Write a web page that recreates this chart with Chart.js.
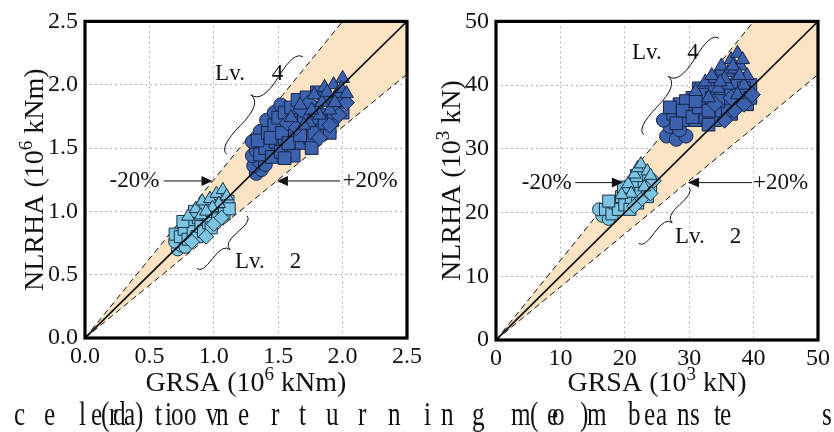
<!DOCTYPE html>
<html>
<head>
<meta charset="utf-8">
<script src="https://cdn.jsdelivr.net/npm/chart.js@4/dist/chart.umd.min.js"></script>
<style>
  html, body { margin: 0; padding: 0; background: #fff; width: 834px; height: 432px; overflow: hidden; }
  canvas { position: absolute; top: 0; }
  #momentChart { left: 0; }
  #shearChart { left: 417px; }
  #caption { position: absolute; left: 0; top: 0; width: 834px; height: 432px; pointer-events: none;
             font-family: "Liberation Serif", serif; font-size: 34px; line-height: 34px; color: #111; }
  #caption span { position: absolute; top: 397px; transform: scaleX(0.74); transform-origin: left center; }
</style>
</head>
<body>
<canvas id="momentChart" width="440" height="400"></canvas>
<canvas id="shearChart" width="417" height="400"></canvas>
<div id="caption"></div>
<script>
// ---- axis ticks ----
const momentTicks = [0, 0.5, 1.0, 1.5, 2.0, 2.5];
const shearTicks = [0, 10, 20, 30, 40, 50];

// ---- reference lines: 1:1 and the ±20 % envelope ----
const momentEqual = [[0, 0], [2.5, 2.5]];
const momentUpper = [[0, 0], [2.0, 2.5]];
const momentLower = [[0, 0], [2.5, 2.0833]];
const momentBand = [[0, 0], [2.0, 2.5], [2.5, 2.5], [2.5, 2.0833]];
const shearEqual = [[0, 0], [50, 50]];
const shearUpper = [[0, 0], [40, 50]];
const shearLower = [[0, 0], [50, 41.667]];
const shearBand = [[0, 0], [40, 50], [50, 50], [50, 41.667]];

// ---- overturning moment, GRSA vs NLRHA (10^6 kNm) ----
const momentLv4Circle = [[1.33,1.30],[1.37,1.33],[1.31,1.36],[1.35,1.40],[1.40,1.37],[1.30,1.44],[1.33,1.48],[1.30,1.55],[1.36,1.63],[1.41,1.72],[1.47,1.78],[1.52,1.84],[1.44,1.50],[1.38,1.55]];
const momentLv4Square = [[1.36,1.45],[1.40,1.50],[1.34,1.56],[1.45,1.43],[1.48,1.55],[1.42,1.62],[1.52,1.47],[1.55,1.58],[1.47,1.68],[1.50,1.74],[1.58,1.66],[1.60,1.50],[1.63,1.60],[1.55,1.78],[1.60,1.82],[1.66,1.72],[1.68,1.54],[1.70,1.64],[1.72,1.78],[1.65,1.88],[1.75,1.58],[1.78,1.70],[1.80,1.82],[1.72,1.90],[1.84,1.64],[1.86,1.76],[1.88,1.88],[1.80,1.94],[1.92,1.72],[1.95,1.82],[1.98,1.90],[1.62,1.44],[1.55,1.42],[1.76,1.50],[1.90,1.62],[2.00,1.78],[1.44,1.58],[1.53,1.62],[1.62,1.70],[1.70,1.74],[1.78,1.62],[1.86,1.70],[1.93,1.78],[1.58,1.54],[1.67,1.60]];
const momentLv4Diamond = [[1.57,1.70],[1.68,1.80],[1.74,1.86],[1.82,1.58],[1.90,1.68],[1.97,1.76],[2.03,1.86],[1.64,1.66],[1.85,1.90]];
const momentLv4Triangle = [[1.60,1.74],[1.67,1.84],[1.74,1.70],[1.78,1.92],[1.82,1.76],[1.86,1.98],[1.90,1.80],[1.93,2.00],[1.96,1.93],[2.00,2.05],[1.70,1.68],[1.84,1.86],[1.99,1.97],[1.76,1.80],[1.94,1.86],[2.03,1.93],[1.88,1.94]];
const momentLv2Circle = [[0.72,0.70],[0.75,0.73],[0.70,0.76],[0.78,0.72]];
const momentLv2Square = [[0.70,0.82],[0.74,0.80],[0.77,0.86],[0.80,0.78],[0.82,0.92],[0.84,0.84],[0.87,0.80],[0.88,0.95],[0.90,0.88],[0.92,0.84],[0.95,0.98],[0.96,0.91],[0.98,0.87],[1.01,1.00],[1.03,0.94],[1.06,1.05],[1.08,0.98],[1.11,1.08],[0.76,0.92],[0.85,1.00],[0.93,1.05],[1.12,1.02]];
const momentLv2Diamond = [[0.83,0.76],[0.94,0.80],[1.00,0.90],[1.06,0.95]];
const momentLv2Triangle = [[0.80,0.96],[0.86,1.02],[0.91,1.08],[0.97,1.10],[1.02,1.14],[1.07,1.17],[1.04,1.06],[0.99,1.03],[1.10,1.12],[0.90,0.97],[0.94,1.00]];

// ---- base shear, GRSA vs NLRHA (10^3 kN) ----
const shearLv4Circle = [[26.5,32.0],[28.0,31.5],[29.5,32.0],[27.0,33.5],[26.0,34.5],[28.5,33.0]];
const shearLv4Square = [[27.5,35.5],[29.0,34.5],[28.5,37.0],[30.0,36.0],[31.0,34.5],[30.5,38.0],[32.0,37.0],[32.5,35.0],[33.0,39.0],[33.5,36.5],[34.0,34.5],[34.5,38.5],[35.0,36.0],[35.5,40.0],[36.0,37.5],[36.5,35.5],[37.0,39.5],[37.5,37.0],[38.0,41.0],[38.5,38.5],[39.0,37.0],[39.5,40.0],[31.5,39.5],[33.0,33.8],[29.5,37.5],[35.0,41.5],[27.0,36.5],[28.0,34.0],[29.0,36.0],[30.5,35.0],[31.5,36.5],[32.0,38.5],[33.5,38.0],[34.0,40.0],[35.0,39.0],[36.0,36.0],[36.5,39.0],[37.5,40.5],[38.5,39.5],[39.5,38.0],[34.5,37.5],[31.0,37.5],[33.0,36.0]];
const shearLv4Diamond = [[35.5,34.5],[37.0,36.0],[38.5,37.0],[39.8,38.5],[34.0,37.0],[36.5,38.0]];
const shearLv4Triangle = [[31.0,39.0],[32.5,40.5],[34.0,41.0],[35.0,43.0],[36.0,42.0],[36.5,44.0],[37.5,45.0],[37.0,42.5],[38.0,43.0],[38.5,40.0],[36.0,40.0],[34.5,39.5],[33.0,38.0],[37.5,38.5],[39.0,41.5],[33.5,41.5],[35.5,41.0],[36.8,43.0],[38.3,44.0],[37.8,41.5],[34.8,40.5]];
const shearLv2Circle = [[16.5,19.5],[17.5,19.0],[16.0,20.5]];
const shearLv2Square = [[17.0,20.5],[18.0,19.8],[18.5,21.5],[19.0,20.5],[19.5,22.5],[20.0,21.2],[20.5,23.5],[21.0,22.0],[21.5,24.5],[22.0,21.5],[22.5,23.0],[23.0,25.0],[23.5,22.5],[24.0,24.0],[17.5,21.8],[19.8,24.0],[21.8,25.8],[20.8,20.5]];
const shearLv2Diamond = [[22.5,22.0],[24.0,23.0],[24.5,25.0],[21.5,21.0]];
const shearLv2Triangle = [[20.5,24.5],[21.5,26.0],[22.0,27.0],[22.5,27.6],[23.5,26.5],[23.0,24.0],[24.0,25.8],[21.0,23.0],[19.5,22.8]];

// ---- styles ----
const FONT = '"Liberation Serif", "Times New Roman", serif';
const LV4 = { fill: '#3d62ad', edge: '#15244a' };
const LV2 = { fill: '#7cc4e2', edge: '#1a3344' };
const BAND_COLOR = '#fbe3c3';

const pts = a => a.map(([x, y]) => ({ x, y }));

function brace(ctx, x1, y1, x2, y2, w, q) {
  let dx = x2 - x1, dy = y2 - y1;
  const len = Math.hypot(dx, dy);
  dx /= len; dy /= len;
  const nx = dy, ny = -dx;
  const q1x = x1 + q * w * nx, q1y = y1 + q * w * ny;
  const q2x = x1 + 0.25 * len * dx + (1 - q) * w * nx, q2y = y1 + 0.25 * len * dy + (1 - q) * w * ny;
  const tx = x1 + 0.5 * len * dx + w * nx, ty = y1 + 0.5 * len * dy + w * ny;
  const q3x = x2 + q * w * nx, q3y = y2 + q * w * ny;
  const q4x = x1 + 0.75 * len * dx + (1 - q) * w * nx, q4y = y1 + 0.75 * len * dy + (1 - q) * w * ny;
  ctx.moveTo(x1, y1);
  ctx.quadraticCurveTo(q1x, q1y, q2x, q2y);
  ctx.quadraticCurveTo(2 * q2x - q1x, 2 * q2y - q1y, tx, ty);
  ctx.moveTo(x2, y2);
  ctx.quadraticCurveTo(q3x, q3y, q4x, q4y);
  ctx.quadraticCurveTo(2 * q4x - q3x, 2 * q4y - q3y, tx, ty);
}

// text with a superscript exponent: [before, exponent, after]
function drawSupText(ctx, parts, cx, by, size) {
  const supSize = Math.round(size * 0.68);
  ctx.font = size + 'px ' + FONT;
  const w0 = ctx.measureText(parts[0]).width, w2 = ctx.measureText(parts[2]).width;
  ctx.font = supSize + 'px ' + FONT;
  const w1 = ctx.measureText(parts[1]).width;
  let x = cx - (w0 + w1 + w2) / 2;
  ctx.textAlign = 'left';
  ctx.textBaseline = 'alphabetic';
  ctx.font = size + 'px ' + FONT;
  ctx.fillText(parts[0], x, by); x += w0;
  ctx.font = supSize + 'px ' + FONT;
  ctx.fillText(parts[1], x, by - size * 0.38); x += w1;
  ctx.font = size + 'px ' + FONT;
  ctx.fillText(parts[2], x, by);
}

const decor = {
  id: 'decor',
  beforeDatasetsDraw(chart, args, o) {
    const { ctx, chartArea: a, scales: { x, y } } = chart;
    ctx.save();
    ctx.beginPath();
    ctx.rect(a.left, a.top, a.right - a.left, a.bottom - a.top);
    ctx.clip();
    ctx.beginPath();
    o.band.forEach(([vx, vy], i) => {
      const px = x.getPixelForValue(vx), py = y.getPixelForValue(vy);
      i ? ctx.lineTo(px, py) : ctx.moveTo(px, py);
    });
    ctx.closePath();
    ctx.fillStyle = BAND_COLOR;
    ctx.fill();
    ctx.restore();
  },
  afterDatasetsDraw(chart, args, o) {
    const { ctx, chartArea: a, scales: { x, y } } = chart;
    ctx.save();
    ctx.strokeStyle = '#111';
    ctx.fillStyle = '#111';
    ctx.lineWidth = 1;
    // braces pointing at each cluster
    o.braces.forEach(([x1, y1, x2, y2, w]) => {
      ctx.beginPath();
      brace(ctx, x.getPixelForValue(x1), y.getPixelForValue(y1), x.getPixelForValue(x2), y.getPixelForValue(y2), w, 0.6);
      ctx.stroke();
    });
    // arrows to the envelope lines
    o.arrows.forEach(([x1, y1, x2, y2]) => {
      const ax = x.getPixelForValue(x1), ay = y.getPixelForValue(y1);
      const bx = x.getPixelForValue(x2), by = y.getPixelForValue(y2);
      const d = Math.sign(bx - ax);
      ctx.beginPath();
      ctx.moveTo(ax, ay);
      ctx.lineTo(bx - d * 8, by);
      ctx.stroke();
      ctx.beginPath();
      ctx.moveTo(bx, by);
      ctx.lineTo(bx - d * 11, by - 5);
      ctx.lineTo(bx - d * 11, by + 5);
      ctx.closePath();
      ctx.fill();
    });
    ctx.font = '23px ' + FONT;
    ctx.textAlign = 'left';
    ctx.textBaseline = 'middle';
    o.notes.forEach(([t, vx, vy]) => ctx.fillText(t, x.getPixelForValue(vx), y.getPixelForValue(vy)));
    // frame
    ctx.lineWidth = 3.2;
    ctx.strokeStyle = '#000';
    ctx.strokeRect(a.left, a.top, a.right - a.left, a.bottom - a.top);
    // axis titles
    ctx.fillStyle = '#111';
    drawSupText(ctx, o.xTitle, (a.left + a.right) / 2, 391, 28);
    ctx.translate(o.yTitleX, (a.top + a.bottom) / 2);
    ctx.rotate(-Math.PI / 2);
    drawSupText(ctx, o.yTitle, 0, 0, 28);
    ctx.restore();
  }
};

function markerSets(c, r, style) {
  const base = { backgroundColor: style.fill, borderColor: style.edge, borderWidth: 1, pointHoverRadius: r };
  return [
    Object.assign({ data: pts(c.circle), pointStyle: 'circle', pointRadius: r - 0.5, order: 6 }, base),
    Object.assign({ data: pts(c.square), pointStyle: 'rect', pointRadius: r + 1.5, order: 5 }, base),
    Object.assign({ data: pts(c.diamond), pointStyle: 'rectRot', pointRadius: r + 0.5, order: 4 }, base),
    Object.assign({ data: pts(c.triangle), pointStyle: 'triangle', pointRadius: r + 0.5, order: 3 }, base)
  ];
}

function makeChart(id, cfg) {
  const refLine = (data, dash, width, order) => ({
    data: pts(data), showLine: true, borderColor: '#111', borderWidth: width, borderDash: dash,
    pointRadius: 0, pointHoverRadius: 0, fill: false, order
  });
  const datasets = [
    refLine(cfg.upper, [6, 4], 1, 9),
    refLine(cfg.lower, [6, 4], 1, 9),
    ...markerSets(cfg.lv2, 7, LV2),
    ...markerSets(cfg.lv4, 7.5, LV4),
    refLine(cfg.equal, [], 1.7, 0)
  ];
  const axis = (ticks, fit, padding) => ({
    type: 'linear', min: 0, max: ticks[ticks.length - 1],
    afterBuildTicks: s => { s.ticks = ticks.map(v => ({ value: v })); },
    afterFit: fit,
    grid: { color: '#b3b3b3', lineWidth: 1, drawTicks: false },
    border: { display: false, dash: [2, 3] },
    ticks: {
      color: '#111', font: { family: FONT, size: 24 }, padding, autoSkip: false, maxRotation: 0,
      callback: v => v.toFixed(cfg.decimals)
    }
  });
  return new Chart(document.getElementById(id), {
    type: 'scatter',
    data: { datasets },
    options: {
      responsive: false, animation: false, devicePixelRatio: 1,
      layout: { padding: cfg.padding },
      scales: {
        x: axis(cfg.ticks, s => { s.height = cfg.xAxisHeight; }, 4),
        y: axis(cfg.ticks, s => { s.width = cfg.yAxisWidth; }, 7)
      },
      plugins: {
        legend: { display: false }, tooltip: { enabled: false },
        decor: cfg.decor
      }
    },
    plugins: [decor]
  });
}

makeChart('momentChart', {
  ticks: momentTicks, decimals: 1,
  padding: { top: 19, right: 33, left: 0, bottom: 0 }, xAxisHeight: 62, yAxisWidth: 85,
  upper: momentUpper, lower: momentLower, equal: momentEqual,
  lv4: { circle: momentLv4Circle, square: momentLv4Square, diamond: momentLv4Diamond, triangle: momentLv4Triangle },
  lv2: { circle: momentLv2Circle, square: momentLv2Square, diamond: momentLv2Diamond, triangle: momentLv2Triangle },
  decor: {
    band: momentBand,
    xTitle: ['GRSA (10', '6', ' kNm)'], yTitle: ['NLRHA (10', '6', ' kNm)'], yTitleX: 43,
    notes: [['Lv.', 1.01, 2.085], ['4', 1.45, 2.085], ['-20%', 0.19, 1.24], ['+20%', 2.0, 1.24], ['Lv.', 1.165, 0.60], ['2', 1.59, 0.60]],
    arrows: [[0.61, 1.24, 0.99, 1.24], [1.98, 1.24, 1.49, 1.24]],
    braces: [[1.102, 1.450, 1.693, 2.218, 18], [1.258, 0.964, 0.870, 0.549, 11]]
  }
});

makeChart('shearChart', {
  ticks: shearTicks, decimals: 0,
  padding: { top: 20, right: 16, left: 0, bottom: 0 }, xAxisHeight: 60, yAxisWidth: 79,
  upper: shearUpper, lower: shearLower, equal: shearEqual,
  lv4: { circle: shearLv4Circle, square: shearLv4Square, diamond: shearLv4Diamond, triangle: shearLv4Triangle },
  lv2: { circle: shearLv2Circle, square: shearLv2Square, diamond: shearLv2Diamond, triangle: shearLv2Triangle },
  decor: {
    band: shearBand,
    xTitle: ['GRSA (10', '3', ' kN)'], yTitle: ['NLRHA (10', '3', ' kN)'], yTitleX: 43,
    notes: [['Lv.', 21.1, 45.0], ['4', 29.7, 45.0], ['-20%', 4.0, 24.7], ['+20%', 39.9, 24.7], ['Lv.', 27.8, 16.1], ['2', 36.3, 16.1]],
    arrows: [[12.3, 24.7, 19.7, 24.7], [39.75, 24.7, 29.8, 24.7]],
    braces: [[22.98, 32.19, 34.63, 47.34, 17], [29.97, 23.91, 22.20, 15.16, 11]]
  }
});

// caption line beneath the panels
const captionLayout = [
  ['c', 14], ['e', 44], ['l', 79], ['e', 91], ['(', 101], ['r', 109], ['d', 113], ['a', 124], [')', 135],
  ['t', 155], ['i', 165], ['o', 171], ['o', 184], ['v', 206], ['n', 216], ['e', 238], ['r', 271], ['t', 299],
  ['u', 326], ['r', 358], ['n', 388], ['i', 424], ['n', 441], ['g', 472], ['m', 511], ['(', 530], ['e', 547],
  ['o', 552], [')', 580], ['m', 587], ['b', 628], ['e', 644], ['a', 656], ['n', 677], ['s', 690], ['t', 714],
  ['e', 720], ['s', 822]
];
const cap = document.getElementById('caption');
captionLayout.forEach(([ch, x]) => {
  const s = document.createElement('span');
  s.textContent = ch;
  s.style.left = x + 'px';
  cap.appendChild(s);
});
</script>
</body>
</html>
